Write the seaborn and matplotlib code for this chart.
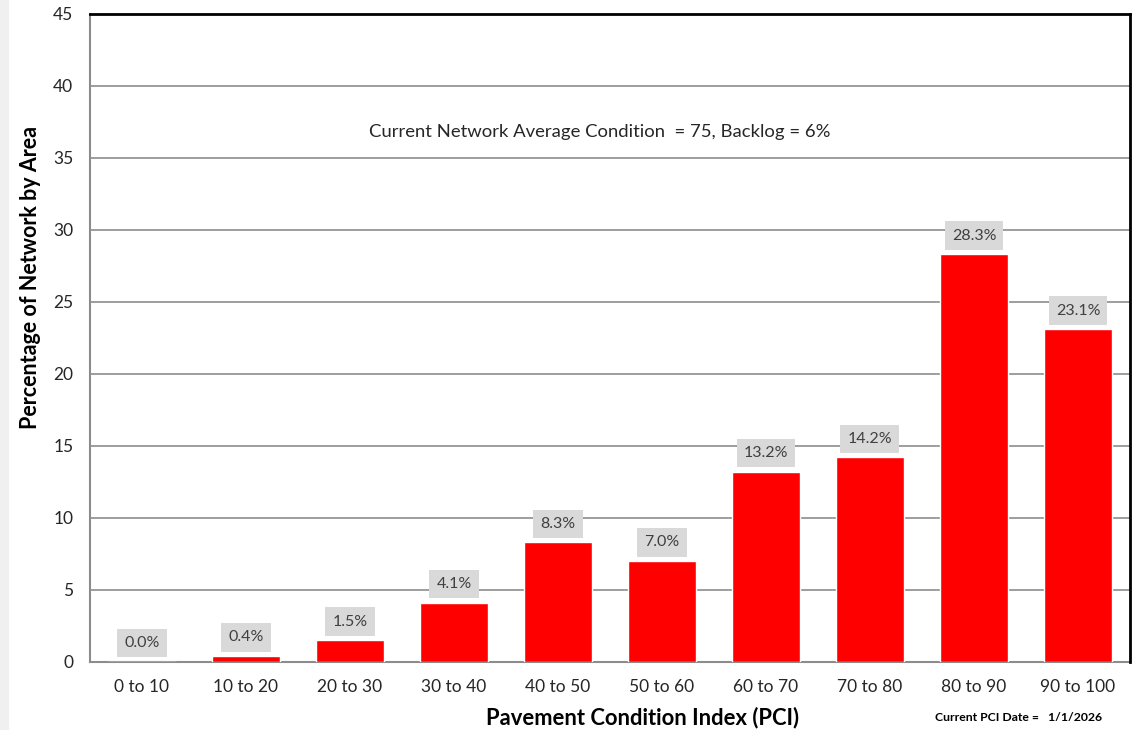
import matplotlib
matplotlib.use("Agg")
import matplotlib.pyplot as plt
import seaborn as sns
import pandas as pd
from matplotlib.patches import Rectangle

# Data
categories = ['0 to 10', '10 to 20', '20 to 30', '30 to 40', '40 to 50',
              '50 to 60', '60 to 70', '70 to 80', '80 to 90', '90 to 100']
percent = [0.0, 0.4, 1.5, 4.1, 8.3, 7.0, 13.2, 14.2, 28.3, 23.1]
y_ticks = [0, 5, 10, 15, 20, 25, 30, 35, 40, 45]
summary_text = 'Current Network Average Condition  = 75, Backlog = 6%'
date_text = 'Current PCI Date =   1/1/2026'

df = pd.DataFrame({'range': categories, 'pct': percent})

sns.set_style('white')
plt.rcParams['font.family'] = ['Lato', 'DejaVu Sans']

fig = plt.figure(figsize=(11.4, 7.3), dpi=100)
ax = fig.add_axes([0.0789, 0.0932, 0.9123, 0.8877])

# faint slide edge on the left
fig.patches.append(Rectangle((0, 0), 0.007, 1, transform=fig.transFigure,
                             color='#f0f0f0', zorder=0))

sns.barplot(data=df, x='range', y='pct', color='#ff0000', saturation=1,
            width=0.655, ax=ax, zorder=3)

ax.set_xlim(-0.5, len(categories) - 0.5)
ax.set_ylim(0, 45)
ax.set_yticks(y_ticks)
ax.set_yticklabels([str(t) for t in y_ticks])
ax.yaxis.grid(True, color='#8c8c8c', linewidth=1.2, zorder=0)
ax.set_axisbelow(True)

# category boundary ticks on x
ax.set_xticks(range(len(categories)))
ax.set_xticklabels(categories)
ax.tick_params(axis='x', length=0, labelsize=12.5, pad=12, colors='#262626')
ax.set_xticks([i + 0.5 for i in range(-1, len(categories))], minor=True)
ax.tick_params(axis='x', which='minor', length=6, width=1.2, color='#8c8c8c', direction='out')
ax.tick_params(axis='y', length=6, width=1.2, color='#8c8c8c', direction='out',
               labelsize=12.5, pad=6, labelcolor='#262626')
ax.set_xlabel('')
ax.set_ylabel('')

for s in ['left', 'bottom']:
    ax.spines[s].set_color('#8c8c8c')
    ax.spines[s].set_linewidth(1.5)
for s in ['top', 'right']:
    ax.spines[s].set_color('#000000')
    ax.spines[s].set_linewidth(2)
    ax.spines[s].set_zorder(5)

# value labels
for i, v in enumerate(percent):
    ax.annotate(f'{v:.1f}%', xy=(i, v), xytext=(0, 13.5), textcoords='offset points',
                ha='center', va='center', fontsize=11.5, color='#404040',
                bbox=dict(boxstyle='square,pad=0.45', facecolor='#d9d9d9', edgecolor='none'),
                zorder=6)

ax.text(4.4, 36.8, summary_text, ha='center', va='center', fontsize=13.3, color='#262626')

fig.text(0.564, 0.017, 'Pavement Condition Index (PCI)', ha='center', va='center',
         fontsize=15.8, fontweight='bold', color='#000000')
fig.text(0.027, 0.62, 'Percentage of Network by Area', ha='center', va='center',
         rotation=90, fontsize=15.5, fontweight='bold', color='#000000')
fig.text(0.82, 0.017, date_text, ha='left', va='center', fontsize=8.8,
         fontweight='bold', color='#000000')

fig.savefig('out.png', dpi=100, facecolor='white')
